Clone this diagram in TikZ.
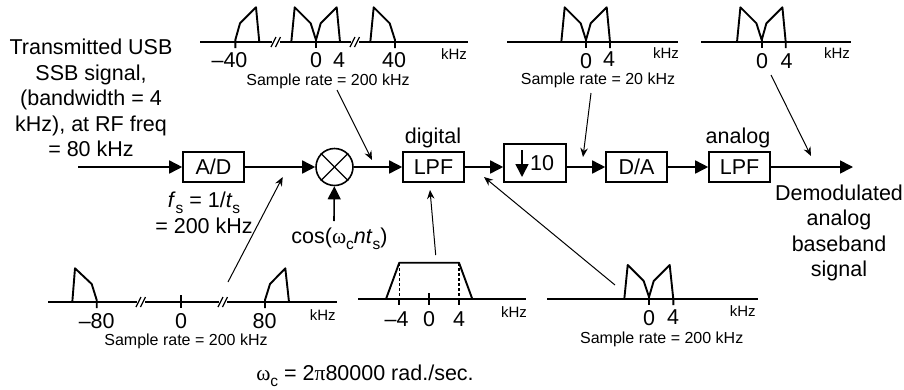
\documentclass[tikz,border=0pt]{standalone}
\usepackage{fontspec}
\setmainfont{Liberation Sans}
\newfontfamily\symb{Liberation Serif}
\usetikzlibrary{arrows.meta}
\newcommand{\lowsub}[1]{\raisebox{-5.5pt}[0pt][0pt]{\fontsize{15.5}{15.5}\selectfont #1}}
\tikzset{
	block/.style={draw,line width=1.6,minimum width=61,minimum height=30,inner sep=0,font=\fontsize{21.5}{24}\selectfont},
	plain/.style={inner sep=0,font=\fontsize{21.5}{25.6}\selectfont,align=center},
	tick/.style={inner sep=0,font=\fontsize{21.5}{21.5}\selectfont},
	unit/.style={inner sep=0,font=\fontsize{15}{15}\selectfont},
	rate/.style={inner sep=0,font=\fontsize{16}{16}\selectfont},
	flow/.style={line width=1.6,-{Triangle[length=13,width=13]}},
	note/.style={line width=1,-{Stealth[length=9,width=7.5,inset=3]}},
	axis/.style={line width=1.2},
	lobe/.style={line width=1.9,line join=round},
}
\begin{document}
\begin{tikzpicture}[x=1pt,y=-1pt]
	\useasboundingbox (0,0) rectangle (904,389);
	% blocks
	\coordinate (in) at (78,167);
	\node[block] (ad) at (213.5,167) {A/D};
	\node[draw,circle,line width=1.6,minimum size=37,inner sep=0] (mix) at (334.5,167) {};
	\node[block] (lpfa) at (433.5,167) {LPF};
	\node[block,minimum width=62,minimum height=38] (dec) at (535,163) {};
	\node[block] (da) at (636.5,167) {D/A};
	\node[block] (lpfb) at (739.5,167) {LPF};
	\coordinate (out) at (853,167);
	\draw[flow] (in) to (ad);
	\draw[flow] (ad) to (mix);
	\draw[flow] (mix) to (lpfa);
	\draw[flow] (lpfa) to (dec.west |- in);
	\draw[flow] (dec.east |- in) to (da);
	\draw[flow] (da) to (lpfb);
	\draw[flow] (lpfb) to (out);
	\draw[line width=1.3] (mix.45) to (mix.225);
	\draw[line width=1.3] (mix.135) to (mix.315);
	\node[inner sep=0,font=\fontsize{21.5}{24}\selectfont] (ten) at (542,163) {10};
	\draw[line width=1.6,-{Triangle[length=13,width=13]}] (522,150) to (522,177);
	\coordinate (cosin) at (334,221);
	\draw[flow] (cosin) to (mix);
	% texts
	\node[plain] (txin) at (91,98) {Transmitted USB\\SSB signal,\\(bandwidth = 4\\kHz), at RF freq\\= 80 kHz};
	\node[plain] (txfs) at (204,213) {\textit{f}\lowsub{s} = 1/\textit{t}\lowsub{s}\\= 200 kHz};
	\node[plain] (txcos) at (339.5,238) {cos({\symb ω}\lowsub{c}\textit{nt}\lowsub{s})};
	\node[plain] (txdig) at (433,138) {digital};
	\node[plain] (txana) at (738,138) {analog};
	\node[plain] (txout) at (839,233) {Demodulated\\analog\\baseband\\signal};
	\node[plain] (txw) at (365,373) {{\symb ω}\lowsub{c} = 2{\symb π}80000 rad./sec.};
	% top left spectrum
	\draw[axis] (200,42) to (272,42) (280,42) to (351,42) (359,42) to (468,42);
	\draw[axis] (271,47) to (276,37) (275.5,47) to (280.5,37) (350,47) to (355,37) (354.5,47) to (359.5,37);
	\draw[lobe] (235.3,48) to (235.3,40) to (240,23.3) to (256,7.3) to (259.3,42);
	\draw[lobe] (291.3,42) to (294.7,7.3) to (310.7,23.3) to (316,40) to (320.7,23.3) to (336.7,7.3) to (340,42);
	\draw[lobe] (370.3,42) to (373.7,7.3) to (389.7,23.3) to (395,40) to (395,48);
	\draw[lobe] (316,40) to (316,48);
	\node[tick] (ta) at (229.5,60) {–40};
	\node[tick] (tb) at (316,60) {0};
	\node[tick] (tc) at (339,60) {4};
	\node[tick] (td) at (394,60) {40};
	\node[unit] (tu) at (454,54) {kHz};
	\node[rate] (tr) at (328,81) {Sample rate = 200 kHz};
	% top middle spectrum
	\draw[axis] (507,42) to (678,42);
	\draw[lobe] (561.3,42) to (564.7,7.3) to (580.7,23.3) to (586,40) to (590.7,23.3) to (606.7,7.3) to (610,42) to (610,48);
	\draw[lobe] (586,40) to (586,48);
	\node[tick] (ma) at (586,61) {0};
	\node[tick] (mb) at (609,59) {4};
	\node[unit] (mu) at (666,53) {kHz};
	\node[rate] (mr) at (598,80) {Sample rate = 20 kHz};
	% top right spectrum
	\draw[axis] (701,42) to (851,42);
	\draw[lobe] (737,42) to (740.4,7.3) to (756.4,23.3) to (761.7,40) to (766.4,23.3) to (782.4,7.3) to (785.7,42) to (785.7,48);
	\draw[lobe] (761.7,40) to (761.7,48);
	\node[tick] (ra) at (762,61) {0};
	\node[tick] (rb) at (786.5,61) {4};
	\node[unit] (ru) at (837,53) {kHz};
	% bottom left spectrum
	\draw[axis] (48,302) to (137,302) (145,302) to (219,302) (227,302) to (337,302);
	\draw[axis] (136,307) to (141,297) (140.5,307) to (145.5,297) (218,307) to (223,297) (222.5,307) to (227.5,297);
	\draw[lobe] (72.3,302) to (75,268.3) to (91.7,284) to (96.7,300) to (96.7,308);
	\draw[lobe] (180.7,295) to (180.7,308);
	\draw[lobe] (265,308) to (265,300) to (270,284) to (285.3,268.3) to (289,302);
	\node[tick] (la) at (96.7,321) {–80};
	\node[tick] (lb) at (181,321) {0};
	\node[tick] (lc) at (264.7,321) {80};
	\node[unit] (lu) at (322.7,315) {kHz};
	\node[rate] (lr) at (186,341) {Sample rate = 200 kHz};
	% bottom middle spectrum
	\draw[axis] (358,299) to (526,299);
	\draw[lobe] (386,299) to (399.3,262.7) to (459,262.7) to (472.3,299);
	\draw[axis,dashed,dash pattern=on 3 off 2] (399.3,263) to (399.3,299);
	\draw[axis,dashed,dash pattern=on 3 off 2] (459,263) to (459,299);
	\draw[lobe] (399.3,299) to (399.3,305) (429.3,293) to (429.3,305) (459,299) to (459,305);
	\node[tick] (ca) at (396.7,319) {–4};
	\node[tick] (cb) at (429,319) {0};
	\node[tick] (cc) at (459,319) {4};
	\node[unit] (cu) at (514,312) {kHz};
	% bottom right spectrum
	\draw[axis] (547,299) to (758,299);
	\draw[lobe] (624.3,299) to (627.7,265) to (643.7,281) to (649,297) to (653.7,281) to (669.7,265) to (673.3,299) to (673.3,305);
	\draw[lobe] (649,297) to (649,305);
	\node[tick] (sa) at (649,318) {0};
	\node[tick] (sb) at (673,317) {4};
	\node[unit] (su) at (742.7,311) {kHz};
	\node[rate] (sr) at (661.7,339) {Sample rate = 200 kHz};
	% notes
	\coordinate (na) at (372,160);
	\coordinate (nb) at (583,157);
	\coordinate (nc) at (811,156);
	\coordinate (nd) at (282.7,177);
	\coordinate (ne) at (430,190);
	\coordinate (nf) at (484,177);
	\coordinate (sa0) at (337,90);
	\coordinate (sb0) at (591,93);
	\coordinate (sc0) at (771,75);
	\coordinate (sd0) at (228,282);
	\coordinate (se0) at (435.7,255);
	\coordinate (sf0) at (615,285);
	\draw[note] (sa0) to (na);
	\draw[note] (sb0) to (nb);
	\draw[note] (sc0) to (nc);
	\draw[note] (sd0) to (nd);
	\draw[note] (se0) to (ne);
	\draw[note] (sf0) to (nf);
\end{tikzpicture}
\end{document}
